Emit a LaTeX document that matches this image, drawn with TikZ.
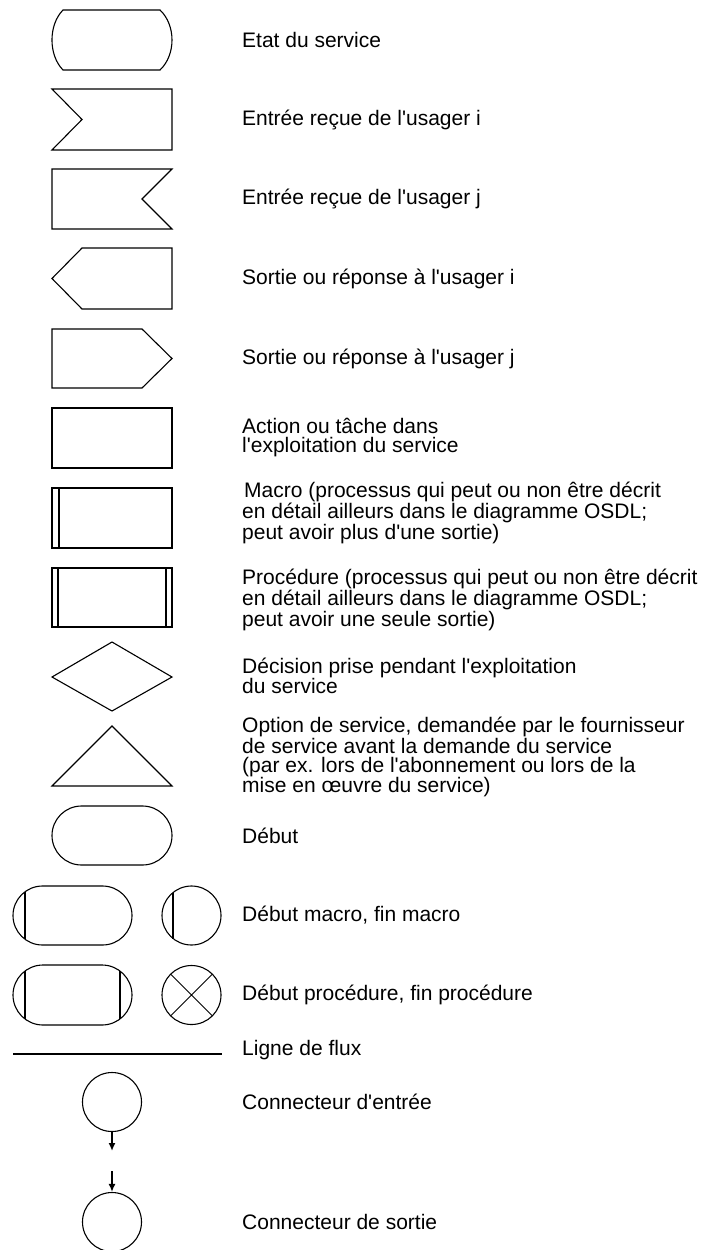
\documentclass[tikz,border=0pt]{standalone}
\usepackage{fontspec}
\setmainfont{Liberation Sans}[Ligatures=TeXOff]
\usetikzlibrary{arrows.meta}
\tikzset{
  sym/.style={line width=1.1pt, line join=miter},
  bar/.style={line width=2pt},
  flow/.style={line width=1.6pt},
  conn/.style={sym, draw, circle, minimum size=59pt, inner sep=0pt},
  lbl/.style={anchor=west, align=left, inner sep=0pt, font=\fontsize{21}{19}\selectfont},
}
\begin{document}
\begin{tikzpicture}[x=1pt, y=-1pt, >={Latex[length=8pt,width=7pt]}]
\useasboundingbox (0,0) rectangle (707,1250);
% etat du service
\draw[sym] (63,10)--(160,10) .. controls (176,25) and (176,55) .. (160,70)
    --(63,70) .. controls (48.3,55) and (48.3,25) .. (63,10)--cycle;
% entrees
\draw[sym] (52,89)--(172,89)--(172,150)--(52,150)--(82,119.5)--cycle;
\draw[sym] (52,169)--(172,169)--(142,199)--(172,229)--(52,229)--cycle;
% sorties
\draw[sym] (82,248)--(172,248)--(172,309)--(82,309)--(52,278.5)--cycle;
\draw[sym] (52,329)--(142,329)--(172,358.5)--(142,388)--(52,388)--cycle;
% action, macro, procedure
\draw[sym] (52,408) rectangle (172,468);
\draw[sym] (52,488) rectangle (172,548);
\draw[bar] (59,488)--(59,548);
\draw[sym] (52,568) rectangle (172,627);
\draw[bar] (58,568)--(58,627) (166,568)--(166,627);
% decision, option
\draw[sym] (52,677)--(112,642)--(172,677)--(112,711)--cycle;
\draw[sym] (52,786)--(112,726)--(172,786)--cycle;
% debut
\draw[sym, rounded corners=29.5pt] (52,806) rectangle (172,865);
\draw[sym, rounded corners=29.5pt] (13,886) rectangle (132,945);
\draw[bar] (25,891.8)--(25,939.2);
\draw[sym] (191.5,915.5) circle (29.5);
\draw[bar] (173,892.5)--(173,938.5);
\draw[sym, rounded corners=30pt] (13,965) rectangle (132,1025);
\draw[bar] (25,971)--(25,1019) (120,971)--(120,1019);
\draw[sym] (191.5,995) circle (29.5);
\draw[sym, line width=.8pt] (170.6,974.1)--(212.4,1015.9) (170.6,1015.9)--(212.4,974.1);
% ligne de flux
\draw[bar] (13,1054)--(222,1054);
% connecteurs
\node[conn] (cin) at (112,1102) {};
\coordinate (cinEnd) at (112,1151);
\draw[flow, ->] (cin) -- (cinEnd);
\coordinate (coutStart) at (112,1171);
\node[conn] (cout) at (112,1222) {};
\draw[flow, ->] (coutStart) -- (cout);

\node[lbl] (tEtat) at (242,40) {Etat du service};
\node[lbl] (tEntreeI) at (242,119.5) {Entrée reçue de l'usager i};
\node[lbl] (tEntreeJ) at (242,199) {Entrée reçue de l'usager j};
\node[lbl] (tSortieI) at (242,279) {Sortie ou réponse à l'usager i};
\node[lbl] (tSortieJ) at (242,358.5) {Sortie ou réponse à l'usager j};
\node[lbl] (tAction) at (242,438) {Action ou tâche dans\\l'exploitation du service};
\node[lbl] (tMacro) at (242,513) {\hspace*{2pt}Macro (processus qui peut ou non être décrit\\en détail ailleurs dans le diagramme OSDL;\\peut avoir plus d'une sortie)};
\node[lbl] (tProc) at (242,600) {Procédure (processus qui peut ou non être décrit\\en détail ailleurs dans le diagramme OSDL;\\peut avoir une seule sortie)};
\node[lbl] (tDecision) at (242,676) {Décision prise pendant l'exploitation\\du service};
\node[lbl] (tOption) at (242,757) {Option de service, demandée par le fournisseur\\de service avant la demande du service\\(par ex. lors de l'abonnement ou lors de la\\mise en œuvre du service)};
\node[lbl] (tDebut) at (242,836) {Début};
\node[lbl] (tDebutMacro) at (242,915.5) {Début macro, fin macro};
\node[lbl] (tDebutProc) at (242,995) {Début procédure, fin procédure};
\node[lbl] (tFlux) at (242,1050) {Ligne de flux};
\node[lbl] (tCin) at (242,1102) {Connecteur d'entrée};
\node[lbl] (tCout) at (242,1222) {Connecteur de sortie};
\end{tikzpicture}
\end{document}
